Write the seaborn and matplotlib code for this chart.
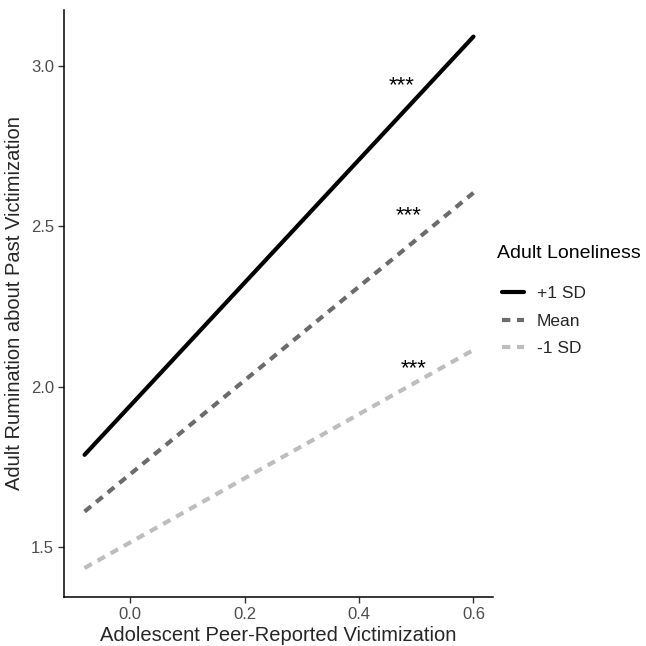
import matplotlib
matplotlib.use('Agg')
import matplotlib.pyplot as plt
import seaborn as sns
import pandas as pd

# simple slopes: predicted rumination at low / high victimization
victimization = [-0.08, 0.60]
groups = ["+1 SD", "Mean", "-1 SD"]
rumination = {
    "+1 SD": [1.787, 3.091],
    "Mean": [1.610, 2.604],
    "-1 SD": [1.434, 2.114],
}
# significance labels placed near each slope
star_labels = ["***", "***", "***"]
star_x = [0.475, 0.486, 0.495]
star_y = [2.937, 2.532, 2.057]

rows = []
for g in groups:
    for xv, yv in zip(victimization, rumination[g]):
        rows.append({"victimization": xv, "rumination": yv, "group": g})
df = pd.DataFrame(rows)

sns.set_style("white")
plt.rcParams['font.family'] = ['Liberation Sans', 'DejaVu Sans']

fig = plt.figure(figsize=(6.46, 6.46), dpi=100)
ax = fig.add_axes([0.099, 0.076, 0.664, 0.909])

palette = {"+1 SD": "#000000", "Mean": "#6b6b6b", "-1 SD": "#bdbdbd"}
dashes = {"+1 SD": "", "Mean": (2, 1.6), "-1 SD": (2, 1.6)}

sns.lineplot(data=df, x="victimization", y="rumination", hue="group",
             style="group", hue_order=groups, style_order=groups,
             palette=palette, dashes=dashes, linewidth=3, ax=ax)

for lab, sx, sy in zip(star_labels, star_x, star_y):
    ax.text(sx, sy, lab, ha="center", va="center", fontsize=16, color="black")

ax.set_xlim(-0.116, 0.634)
ax.set_ylim(1.344, 3.175)
ax.set_xticks([0.0, 0.2, 0.4, 0.6])
ax.set_yticks([1.5, 2.0, 2.5, 3.0])
ax.set_xticklabels(["0.0", "0.2", "0.4", "0.6"])
ax.set_yticklabels(["1.5", "2.0", "2.5", "3.0"])
ax.tick_params(axis="both", which="major", length=4, width=1, color="#333333",
               labelsize=12, labelcolor="#4d4d4d", pad=3, bottom=True, left=True)

ax.set_xlabel("Adolescent Peer-Reported Victimization", fontsize=14.5, labelpad=3)
ax.set_ylabel("Adult Rumination about Past Victimization", fontsize=14.5, labelpad=5)

for side in ["top", "right"]:
    ax.spines[side].set_visible(False)
for side in ["left", "bottom"]:
    ax.spines[side].set_color("black")
    ax.spines[side].set_linewidth(1.1)

# legend title drawn separately so the gap to the keys can match
fig.text(497 / 646, 1 - 253 / 646, "Adult Loneliness", fontsize=14,
         ha="left", va="center", color="black")
handles, labels = ax.get_legend_handles_labels()
ax.legend(handles, labels, frameon=False, loc="upper left",
          bbox_to_anchor=(488 / 646, 1 - 272 / 646),
          bbox_transform=fig.transFigure, fontsize=12.5,
          handlelength=1.3, handletextpad=0.7, labelspacing=0.72,
          borderpad=0.3)

plt.savefig("out.png", dpi=100, facecolor="white")
plt.close()
